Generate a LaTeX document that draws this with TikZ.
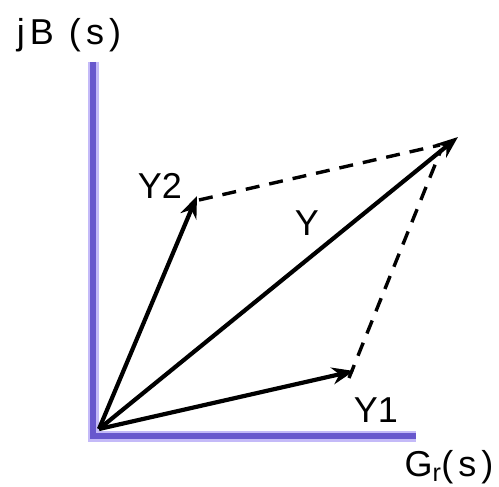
\documentclass[tikz,border=0pt]{standalone}
\usepackage{fontspec}
\setmainfont{Liberation Sans}
\newfontfamily\widelabelfont[LetterSpace=14]{Liberation Sans}
\usetikzlibrary{arrows.meta}
\definecolor{axiscore}{RGB}{104,88,205}
\definecolor{axisglow}{RGB}{196,186,248}
\tikzset{
  axisglowline/.style={draw=axisglow, line width=11pt},
  axisline/.style={draw=axiscore, line width=6.5pt},
  vec/.style={draw=black, line width=4.2pt, -{Stealth[length=22pt,width=17pt]}},
  dashline/.style={draw=black, line width=3.4pt, dash pattern=on 14pt off 10pt},
  lbl/.style={font=\fontsize{36}{40}\selectfont, inner sep=0pt},
  widelbl/.style={font=\widelabelfont\fontsize{36}{40}\selectfont, inner sep=0pt}
}
\begin{document}
\begin{tikzpicture}[x=1pt,y=-1pt]
\useasboundingbox (0,0) rectangle (499,487);
% axes
\coordinate (ytop) at (93,62);
\coordinate (corner) at (93,436);
\coordinate (xend) at (416,436);
\draw[axisglowline] (ytop) -- (corner) -- (xend);
\draw[axisline] (ytop) -- (corner) -- (xend);
% vectors
\coordinate (O) at (99,429);
\coordinate (Y2tip) at (197,196);
\coordinate (Ytip) at (458,137);
\coordinate (Y1tip) at (354,371);
\draw[vec] (O) -- (Y2tip);
\draw[vec] (O) -- (Ytip);
\draw[vec] (O) -- (Y1tip);
% dashed parallelogram sides
\coordinate (d2a) at (199,200);
\coordinate (d2b) at (440,145);
\coordinate (d1a) at (349,378);
\coordinate (d1b) at (441,150);
\draw[dashline] (d2a) -- (d2b);
\draw[dashline] (d1a) -- (d1b);
% labels
\node[widelbl] (jB) at (69,35) {jB (s)};
\node[lbl] (lY2) at (160,186) {Y2};
\node[lbl] (lY) at (307,223) {Y};
\node[lbl] (lY1) at (376,410) {Y1};
\node[widelbl] (lG) at (449,467) {G\textsubscript{r}(s)};
\end{tikzpicture}
\end{document}
